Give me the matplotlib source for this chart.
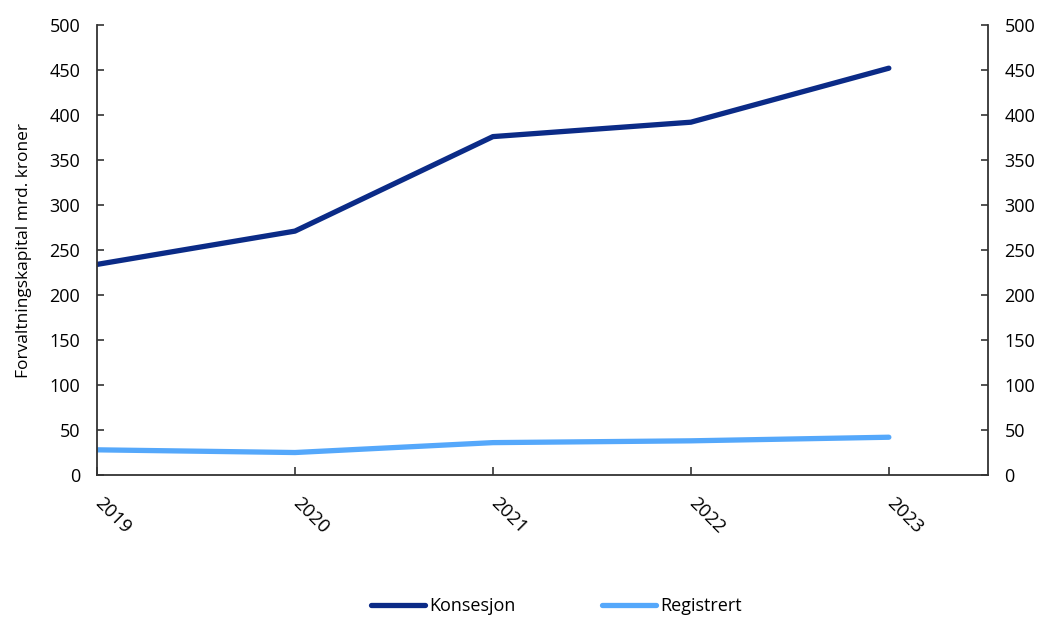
import matplotlib.pyplot as plt
from matplotlib.transforms import ScaledTranslation

plt.rcParams['font.family'] = ['Open Sans', 'DejaVu Sans']

# data (mrd. kroner)
years = ['2019', '2020', '2021', '2022', '2023']
konsesjon = [234, 271, 376, 392, 452]
registrert = [28, 25, 36, 38, 42]

fig = plt.figure(figsize=(10.42, 6.17), dpi=100)
ax = fig.add_axes([0.0931, 0.2301, 0.8549, 0.7294])

x = list(range(len(years)))
ax.plot(x, konsesjon, color='#0b2b87', linewidth=3.8, solid_capstyle='round', label='Konsesjon')
ax.plot(x, registrert, color='#55a8fb', linewidth=3.8, solid_capstyle='round', label='Registrert')

ax.set_xlim(0, 4.5)
ax.set_ylim(0, 500)
ax.set_yticks(range(0, 501, 50))
ax.set_xticks(x)
ax.set_xticklabels(years, rotation=-45, ha='left', va='top', rotation_mode='anchor')

ax.spines['top'].set_visible(False)
for s in ['left', 'right', 'bottom']:
    ax.spines[s].set_color('#333333')
    ax.spines[s].set_linewidth(1.3)

ax.tick_params(axis='y', direction='in', right=True, labelright=True, length=5,
               width=1.2, color='#333333', labelsize=13, pad=12)
ax.tick_params(axis='x', direction='in', length=6, width=1.2, color='#333333',
               labelsize=13.5, pad=14)
# nudge rotated year labels a bit to the right, like the original
shift = ScaledTranslation(5 / 72, 0, fig.dpi_scale_trans)
for lbl in ax.get_xticklabels():
    lbl.set_transform(lbl.get_transform() + shift)

ax.set_ylabel('Forvaltningskapital mrd. kroner', fontsize=12.5)
ax.yaxis.set_label_coords(-0.073, 0.5)

fig.legend(loc='center', bbox_to_anchor=(0.534, 0.018), ncol=2, frameon=False,
           fontsize=13, handlelength=3.0, handletextpad=0.2, columnspacing=4.8)

fig.savefig('out.png', dpi=100)
